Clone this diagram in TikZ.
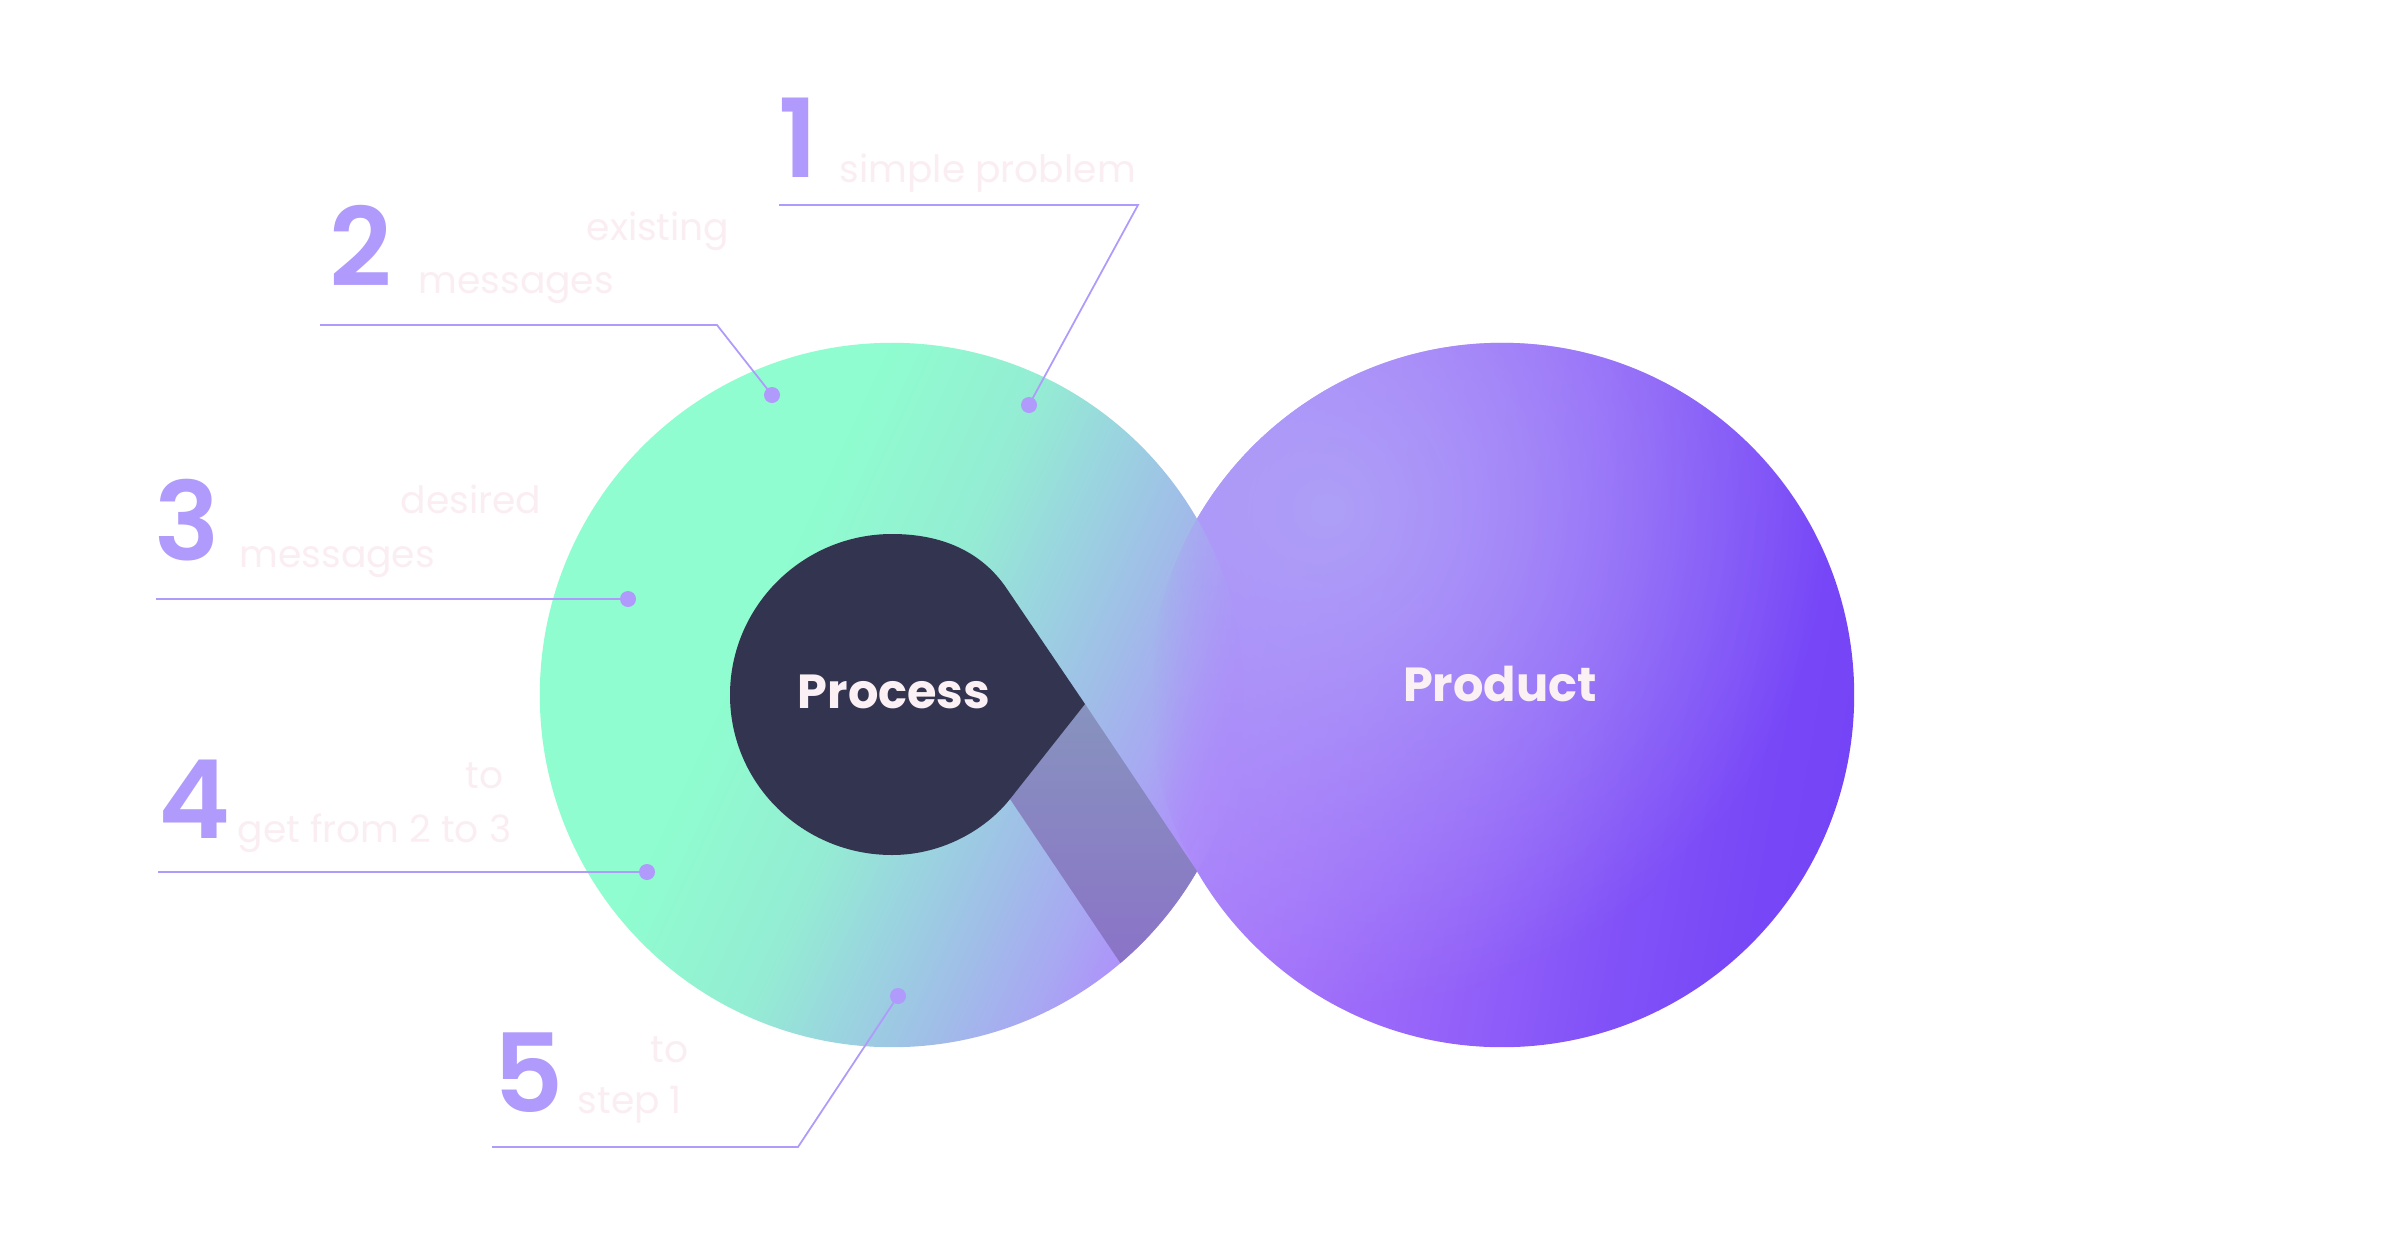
\documentclass[tikz,border=0pt]{standalone}
\usepackage{fontspec}
\setmainfont{Poppins}
\newfontfamily\numfont{Poppins SemiBold}
\usetikzlibrary{fadings}
\definecolor{numcol}{HTML}{B09AFB}
\definecolor{faint}{HTML}{FBEEF3}
\definecolor{darkdrop}{HTML}{33344F}
\definecolor{lbl}{HTML}{FBF0F3}
\definecolor{cg}{HTML}{8FFDCF}
\definecolor{ca}{HTML}{94EDD3}
\definecolor{cb}{HTML}{9AD5DF}
\definecolor{cc}{HTML}{A0BDE8}
\definecolor{cd}{HTML}{A8A8F2}
\definecolor{ce}{HTML}{AE92FA}
\definecolor{cf}{HTML}{AF8EFB}
\definecolor{ra}{HTML}{AC86FA}
\definecolor{rb}{HTML}{A574FB}
\definecolor{rc}{HTML}{9462F9}
\definecolor{rd}{HTML}{8252F8}
\definecolor{re}{HTML}{7848F7}
\definecolor{rf}{HTML}{7444F6}
\definecolor{hlcol}{HTML}{AFA5F7}
\definecolor{lenstop}{HTML}{AD9CF8}
\definecolor{lensmid}{HTML}{AB90F9}
\definecolor{lensbot}{HTML}{AA84F9}
\definecolor{bandtop}{HTML}{8793BE}
\definecolor{bandbot}{HTML}{8B6DC9}
\pgfdeclarehorizontalshading{leftsh}{100bp}{color(0bp)=(cg); color(39bp)=(cg); color(50bp)=(ca); color(56.5bp)=(cb); color(63bp)=(cc); color(68.5bp)=(cd); color(72.8bp)=(ce); color(75bp)=(cf); color(100bp)=(cf)}
\pgfdeclarehorizontalshading{rightsh}{100bp}{color(0bp)=(ra); color(25bp)=(ra); color(37bp)=(rb); color(50bp)=(rc); color(60.9bp)=(rd); color(69.6bp)=(re); color(75bp)=(rf); color(100bp)=(rf)}
\tikzfading[name=hlfade, inner color=transparent!12, outer color=transparent!100]
\tikzfading[name=lensramp, left color=transparent!100, right color=transparent!0]
\begin{document}
\begin{tikzpicture}[x=0.01cm,y=-0.01cm,
  num/.style={text=numcol, font=\numfont\fontsize{31}{31}\selectfont, inner sep=0pt, anchor=base west},
  desc/.style={text=faint, font=\fontsize{10.7}{10.7}\selectfont, inner sep=0pt, anchor=base west},
  leader/.style={draw=numcol, line width=0.5pt},
  dotnode/.style={circle, fill=numcol, inner sep=0pt, minimum size=0.16cm},
  title/.style={text=lbl, font=\bfseries\fontsize{13.6}{13.6}\selectfont, inner sep=0pt}]
\fill[white] (0,0) rectangle (2399,1257);
\useasboundingbox (0,0) rectangle (2399,1257);

% right circle (Product)
\shade[shading=rightsh, shading angle=-10] (1502,695) circle[radius=3.52cm];
\begin{scope}
  \clip (1502,695) circle[radius=3.52cm];
  \fill[hlcol, path fading=hlfade] (1330,510) circle[radius=5cm];
\end{scope}
% left circle (Process ring)
\shade[shading=leftsh, shading angle=-25] (892,695) circle[radius=3.52cm];
% lens: blend the left ring into the right circle
\begin{scope}
  \clip (892,695) circle[radius=3.52cm];
  \clip (1502,695) circle[radius=3.52cm];
  \shade[top color=lenstop, middle color=lensmid, bottom color=lensbot, path fading=lensramp]
    (1152,519) rectangle (1244,871);
\end{scope}
% crossing band
\begin{scope}
  \clip (892,695) circle[radius=3.52cm];
  \shade[top color=bandtop, bottom color=bandbot]
    (1085,704) -- (1290,1010) -- (1152,1010) -- (1010,799) -- (960,720) -- cycle;
\end{scope}
% teardrop
\fill[darkdrop] (730,695) .. controls (730,606) and (803,534) .. (892,534)
  .. controls (948,534) and (985,556) .. (1007,589)
  -- (1085,704) -- (1010,799)
  .. controls (988,827) and (945,855) .. (892,855)
  .. controls (803,855) and (730,784) .. (730,695) -- cycle;

\node[title] (process) at (894,692) {Process};
\node[title] (product) at (1500,684) {Product};

% leader coordinates
\coordinate (s1) at (779,205); \coordinate (b1) at (1138,205);
\coordinate (s2) at (320,325); \coordinate (b2) at (717,325);
\coordinate (s3) at (156,599);
\coordinate (s4) at (158,872);
\coordinate (s5) at (492,1147); \coordinate (b5) at (798,1147);

\node[dotnode] (d1) at (1029,405) {};
\node[dotnode] (d2) at (772,395) {};
\node[dotnode] (d3) at (628,599) {};
\node[dotnode] (d4) at (647,872) {};
\node[dotnode] (d5) at (898,996) {};

\draw[leader] (s1) -- (b1) -- (d1.center);
\draw[leader] (s2) -- (b2) -- (d2.center);
\draw[leader] (s3) -- (d3.center);
\draw[leader] (s4) -- (d4.center);
\draw[leader] (s5) -- (b5) -- (d5.center);

% numbers
\node[num] (n1) at (778,177) {1};
\node[num] (n2) at (329,286) {2};
\node[num] (n3) at (154,560) {3};
\node[num] (n4) at (158,838) {4};
\node[num] (n5) at (493,1112) {5};

% descriptions
\node[desc] (t1) at (839,182) {simple problem};
\node[desc] (t2a) at (586,240) {existing};
\node[desc] (t2b) at (418,293) {messages};
\node[desc] (t3a) at (400,513) {desired};
\node[desc] (t3b) at (239,567) {messages};
\node[desc] (t4a) at (465,788) {to};
\node[desc] (t4b) at (237,842) {get from 2 to 3};
\node[desc] (t5a) at (650,1062) {to};
\node[desc] (t5b) at (577,1113) {step 1};
\end{tikzpicture}
\end{document}
